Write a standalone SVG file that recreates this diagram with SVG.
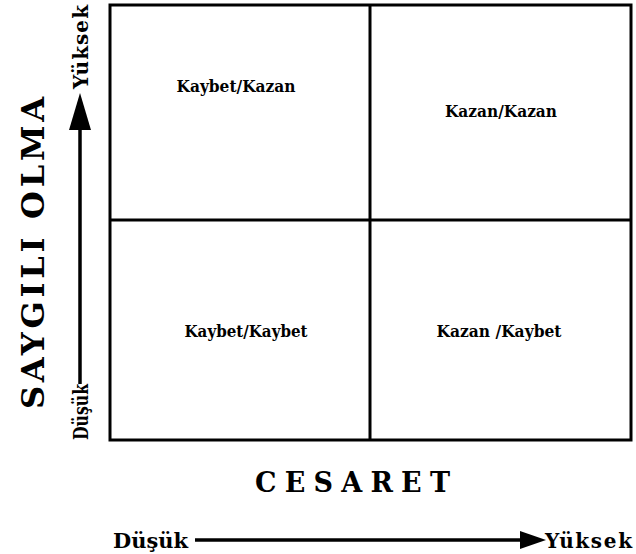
<svg xmlns="http://www.w3.org/2000/svg" width="636" height="554" viewBox="0 0 636 554">
<style>
.t{font-family:"DejaVu Serif","Liberation Serif",serif;font-weight:bold;fill:#000}
.cell{font-size:16px;text-anchor:middle}
.ax{font-size:20px}
.ln{stroke:#000;fill:none}
</style>
<rect width="636" height="554" fill="#fff"/>
<g id="grid">
<rect class="ln" x="110" y="5" width="521" height="435" stroke-width="3"/>
<line class="ln" x1="370" y1="5" x2="370" y2="440" stroke-width="3"/>
<line class="ln" x1="110" y1="220" x2="631" y2="220" stroke-width="3"/>
</g>
<g id="q-kaybet-kazan"><text class="t cell" x="236" y="92" textLength="119" lengthAdjust="spacingAndGlyphs">Kaybet/Kazan</text></g>
<g id="q-kazan-kazan"><text class="t cell" x="501" y="117" textLength="112" lengthAdjust="spacingAndGlyphs">Kazan/Kazan</text></g>
<g id="q-kaybet-kaybet"><text class="t cell" x="246" y="337" textLength="123" lengthAdjust="spacingAndGlyphs">Kaybet/Kaybet</text></g>
<g id="q-kazan-kaybet"><text class="t cell" x="499" y="337" textLength="125" lengthAdjust="spacingAndGlyphs">Kazan /Kaybet</text></g>
<g id="y-axis">
<text class="t" font-size="32" text-anchor="middle" transform="translate(44,253) rotate(-90)" textLength="312" lengthAdjust="spacing">SAYGILI OLMA</text>
<text class="t ax" text-anchor="middle" transform="translate(88,47) rotate(-90)" textLength="84" lengthAdjust="spacing">Yüksek</text>
<text class="t ax" text-anchor="middle" transform="translate(88,412) rotate(-90)" textLength="56" lengthAdjust="spacingAndGlyphs">Düşük</text>
</g>
<g id="x-axis">
<text class="t" font-size="27" x="255" y="492" textLength="195" lengthAdjust="spacing">CESARET</text>
<text class="t ax" x="113" y="548" textLength="75" lengthAdjust="spacingAndGlyphs">Düşük</text>
<text class="t ax" x="545" y="548" textLength="87" lengthAdjust="spacing">Yüksek</text>
</g>
<g id="connectors">
<line class="ln" x1="80" y1="384" x2="80" y2="125" stroke-width="3.5"/>
<polygon points="80,93 69,130 91,130" fill="#000"/>
<line class="ln" x1="195" y1="540" x2="525" y2="540" stroke-width="3.5"/>
<polygon points="546,540 520,531 520,549" fill="#000"/>
</g>
</svg>
